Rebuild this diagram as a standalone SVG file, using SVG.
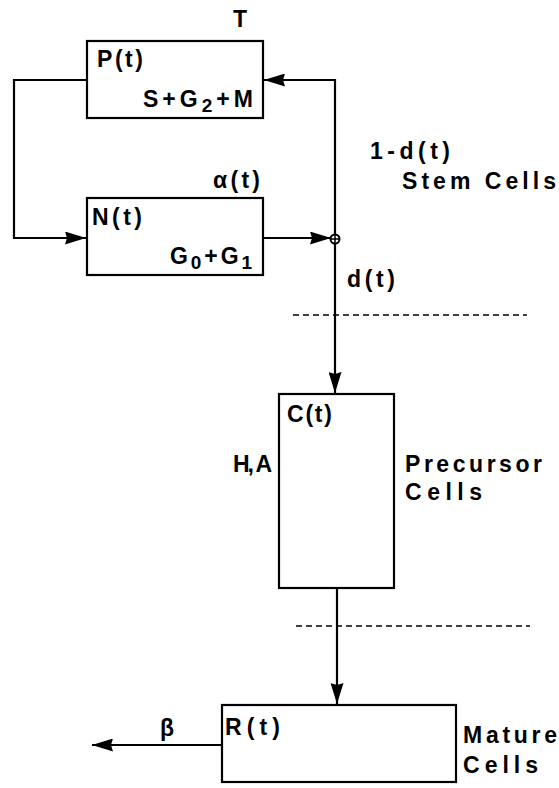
<svg xmlns="http://www.w3.org/2000/svg" width="559" height="788" viewBox="0 0 559 788">
<style>
.box{fill:#fff;stroke:#000;stroke-width:2.2}
.ln{fill:none;stroke:#000;stroke-width:2.2}
.dash{fill:none;stroke:#000;stroke-width:1.6;stroke-dasharray:6 4}
text{font-family:"Liberation Sans",Arial,sans-serif;font-weight:bold;font-size:23px;fill:#000}
.sub{font-size:19px}
</style>
<defs>
<marker id="ah" viewBox="0 0 21 13" refX="21" refY="6.5" markerWidth="21" markerHeight="13" markerUnits="userSpaceOnUse" orient="auto">
<path d="M0,0 L21,6.5 L0,13 L2,6.5 Z" fill="#000"/>
</marker>
</defs>
<rect width="559" height="788" fill="#fff"/>
<g id="connectors">
<polyline class="ln" points="87,80 14,80 14,238 86,238" marker-end="url(#ah)"/>
<line class="ln" x1="263" y1="238" x2="331" y2="238" marker-end="url(#ah)"/>
<polyline class="ln" points="335,235 335,80 264,80" marker-end="url(#ah)"/>
<line class="ln" x1="335" y1="243" x2="335" y2="393" marker-end="url(#ah)"/>
<circle cx="335" cy="239" r="4.5" fill="#fff" stroke="#000" stroke-width="2"/>
<line x1="335" y1="234" x2="335" y2="244" stroke="#000" stroke-width="1.5"/>
<line x1="330" y1="239" x2="340" y2="239" stroke="#000" stroke-width="1.5"/>
<line class="ln" x1="337" y1="588" x2="337" y2="704" marker-end="url(#ah)"/>
<line class="ln" x1="222" y1="745" x2="92" y2="745" marker-end="url(#ah)"/>
<line class="dash" x1="293" y1="315" x2="527" y2="315"/>
<line class="dash" x1="296" y1="626" x2="530" y2="626"/>
</g>
<g id="P">
<rect class="box" x="87" y="41" width="176" height="77"/>
<text x="97" y="67" textLength="46" lengthAdjust="spacing">P(t)</text>
<text x="143" y="107" textLength="110" lengthAdjust="spacing">S+G<tspan class="sub" dy="5">2</tspan><tspan dy="-5">+M</tspan></text>
<text x="233" y="27">T</text>
</g>
<g id="N">
<rect class="box" x="87" y="198" width="176" height="77"/>
<text x="92" y="225" textLength="50" lengthAdjust="spacing">N(t)</text>
<text x="170" y="264" textLength="82" lengthAdjust="spacing">G<tspan class="sub" dy="5">0</tspan><tspan dy="-5">+G</tspan><tspan class="sub" dy="5">1</tspan></text>
<text x="213" y="188" font-weight="normal" textLength="47" lengthAdjust="spacing">α(t)</text>
</g>
<g id="labels-stem">
<text x="370" y="159" textLength="80" lengthAdjust="spacing">1-d(t)</text>
<text x="402" y="189" textLength="154" lengthAdjust="spacing">Stem Cells</text>
<text x="347" y="287" textLength="48" lengthAdjust="spacing">d(t)</text>
</g>
<g id="C">
<rect class="box" x="279" y="394" width="115" height="194"/>
<text x="287" y="422" textLength="45" lengthAdjust="spacing">C(t)</text>
<text x="233" y="472" textLength="39" lengthAdjust="spacing">H, A</text>
<text x="405" y="472" textLength="137" lengthAdjust="spacing">Precursor</text>
<text x="405" y="500" textLength="77" lengthAdjust="spacing">Cells</text>
</g>
<g id="R">
<rect class="box" x="222" y="705" width="234" height="77"/>
<text x="225" y="735" textLength="55" lengthAdjust="spacing">R(t)</text>
<text x="160" y="736" font-weight="normal">β</text>
<text x="463" y="743" textLength="94" lengthAdjust="spacing">Mature</text>
<text x="463" y="773" textLength="75" lengthAdjust="spacing">Cells</text>
</g>
</svg>
